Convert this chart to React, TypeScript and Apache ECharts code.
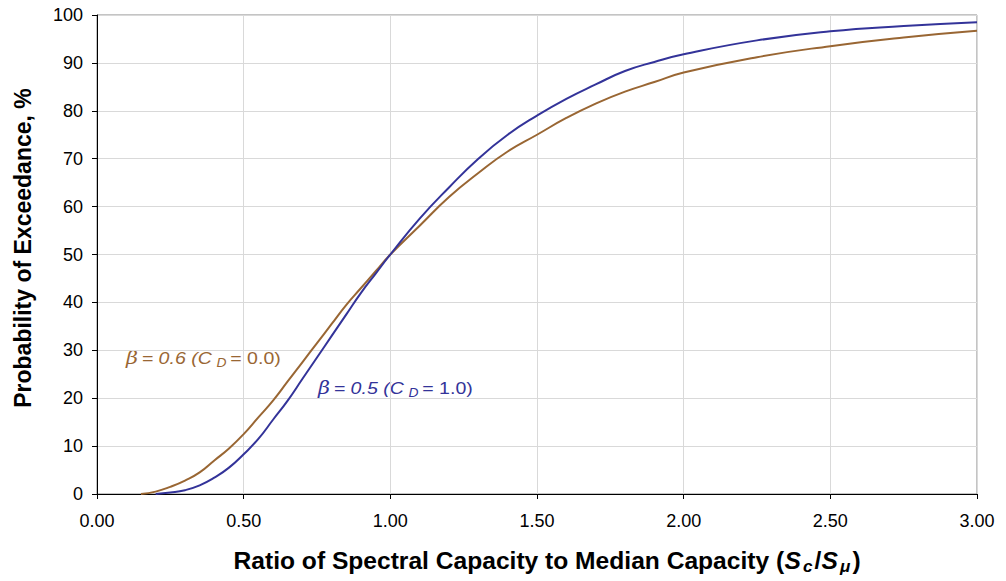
import React, { useEffect, useRef } from "react";
import * as echarts from "echarts";

const xBrown = [0.15, 0.2, 0.25, 0.3, 0.35, 0.4, 0.45, 0.5, 0.55, 0.6, 0.65, 0.7, 0.75, 0.8, 0.85, 0.9, 0.95, 1.0, 1.1, 1.2, 1.3, 1.4, 1.5, 1.6, 1.7, 1.8, 1.9, 2.0, 2.25, 2.5, 2.75, 3.0];
const yBrown = [0, 0.5, 1.5, 2.8, 4.5, 7, 9.5, 12.5, 16, 19.5, 23.5, 27.5, 31.5, 35.5, 39.5, 43, 46.5, 50, 56, 62, 67, 71.5, 75, 78.5, 81.5, 84, 86, 88, 91.2, 93.5, 95.3, 96.7];
const xBlue = [0.2, 0.25, 0.3, 0.35, 0.4, 0.45, 0.5, 0.55, 0.6, 0.65, 0.7, 0.75, 0.8, 0.85, 0.9, 0.95, 1.0, 1.1, 1.2, 1.3, 1.4, 1.5, 1.6, 1.7, 1.8, 1.9, 2.0, 2.25, 2.5, 2.75, 3.0];
const yBlue = [0, 0.3, 0.8, 1.8, 3.4, 5.5, 8.3, 11.5, 15.5, 19.5, 24, 28.5, 33, 37.5, 42, 46, 50, 57.5, 64, 70, 75, 79, 82.5, 85.5, 88.3, 90.2, 91.8, 94.7, 96.6, 97.7, 98.5];

const brown = "#996633";
const blue = "#333399";
const font = "'Liberation Sans', Arial, sans-serif";

function annotation(beta: string, cd: string, color: string) {
  return {
    text: `{g|β} {t|= ${beta} (C}{s|D} {u|= ${cd})}`,
    textVerticalAlign: "middle",
    rich: {
      g: { font: `italic 18px 'DejaVu Serif', serif`, fill: color },
      t: { font: `italic 17px ${font}`, fill: color },
      u: { font: `17px ${font}`, fill: color },
      s: { font: `italic 12px ${font}`, fill: color, padding: [9, 0, 0, 4] },
    },
  };
}

export default function App() {
  const ref = useRef<HTMLDivElement>(null);
  useEffect(() => {
    const chart = echarts.init(ref.current!, undefined, { renderer: "svg" });
    chart.setOption({
      animation: false,
      grid: { left: 97, right: 29, top: 15, bottom: 87, show: true, borderColor: "#888", borderWidth: 1 },
      xAxis: {
        type: "value",
        min: 0,
        max: 3,
        interval: 0.5,
        axisLine: { show: true, lineStyle: { color: "#000", width: 1 } },
        axisTick: { show: true, length: 5, lineStyle: { color: "#000" } },
        axisLabel: { color: "#000", fontSize: 18, fontFamily: font, margin: 18, formatter: (v: number) => v.toFixed(2) },
        splitLine: { show: true, lineStyle: { color: "#d9d9d9" } },
      },
      yAxis: {
        type: "value",
        min: 0,
        max: 100,
        interval: 10,
        axisLine: { show: true, lineStyle: { color: "#000", width: 1 } },
        axisTick: { show: true, length: 5, lineStyle: { color: "#000" } },
        axisLabel: { color: "#000", fontSize: 18, fontFamily: font, margin: 14 },
        splitLine: { show: true, lineStyle: { color: "#d9d9d9" } },
      },
      series: [
        {
          type: "line",
          name: "beta06",
          data: xBrown.map((x, i) => [x, yBrown[i]]),
          showSymbol: false,
          smooth: true,
          lineStyle: { color: brown, width: 2 },
        },
        {
          type: "line",
          name: "beta05",
          data: xBlue.map((x, i) => [x, yBlue[i]]),
          showSymbol: false,
          smooth: true,
          lineStyle: { color: blue, width: 2 },
        },
      ],
      graphic: [
        {
          type: "text",
          x: 23,
          y: 248,
          rotation: Math.PI / 2,
          style: {
            text: "Probability of Exceedance, %",
            font: `bold 23px ${font}`,
            fill: "#000",
            textAlign: "center",
            textVerticalAlign: "middle",
          },
        },
        {
          type: "text",
          x: 547,
          y: 561,
          scaleX: 1.07,
          style: {
            text: "{n|Ratio of Spectral Capacity to Median Capacity (}{i|S}{s|c}{n|/}{i|S}{s|μ}{n|)}",
            textAlign: "center",
            textVerticalAlign: "middle",
            rich: {
              n: { font: `bold 23px ${font}`, fill: "#000" },
              i: { font: `italic bold 23px ${font}`, fill: "#000" },
              s: { font: `italic bold 16px ${font}`, fill: "#000", padding: [12, 2, 0, 2] },
            },
          },
        },
        { type: "text", x: 126, y: 358, scaleX: 1.15, style: annotation("0.6", "0.0", brown) },
        { type: "text", x: 318, y: 388, scaleX: 1.15, style: annotation("0.5", "1.0", blue) },
      ],
    });
    return () => chart.dispose();
  }, []);
  return <div ref={ref} style={{ width: 1006, height: 581, position: "absolute", left: 0, top: 0 }} />;
}
